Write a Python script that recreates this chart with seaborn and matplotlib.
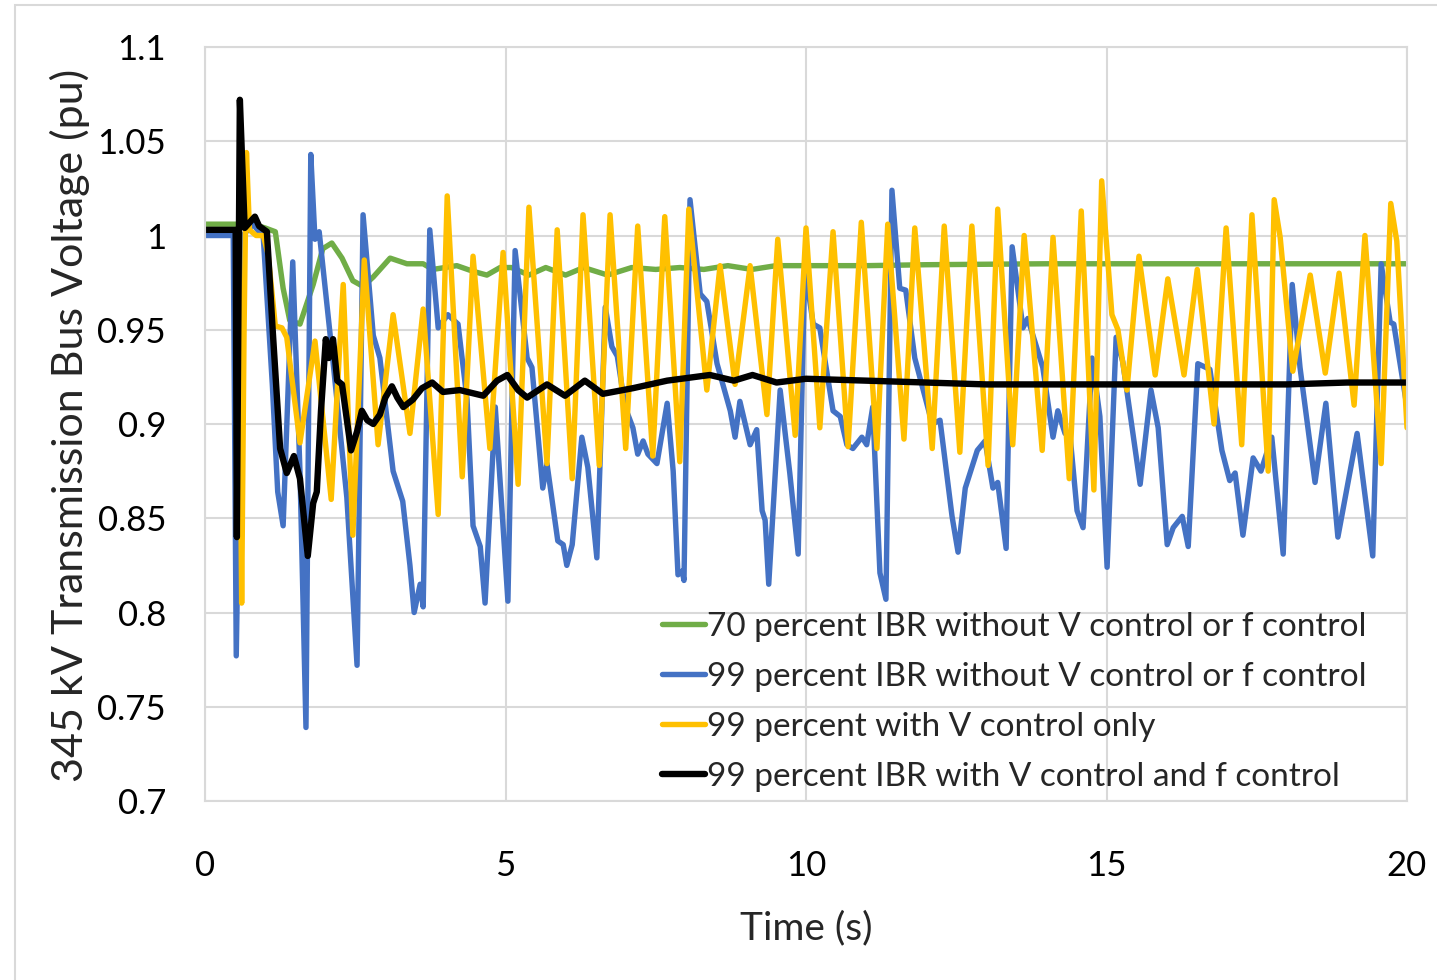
import matplotlib
matplotlib.use("Agg")
import matplotlib.pyplot as plt
import seaborn as sns
import pandas as pd
from matplotlib.patches import Rectangle

# ---------------- data ----------------
green_t = [0, 0.47, 0.80, 1.00, 1.17, 1.30, 1.41, 1.58, 1.80, 1.96, 2.11, 2.28, 2.46, 2.63, 2.80,
           3.08, 3.36, 3.63, 3.79, 4.19, 4.46, 4.69, 4.91, 5.10, 5.39, 5.67, 6.00, 6.30, 6.70,
           7.10, 7.50, 7.90, 8.30, 8.70, 9.10, 9.50, 10.0, 11.0, 12.0, 14.0, 16.0, 18.0, 20.0]
green_v = [1.006, 1.006, 1.006, 1.004, 1.002, 0.972, 0.955, 0.953, 0.974, 0.993, 0.996, 0.988, 0.976,
           0.973, 0.978, 0.988, 0.985, 0.985, 0.982, 0.984, 0.981, 0.979, 0.983, 0.983, 0.979, 0.983,
           0.979, 0.983, 0.979, 0.983, 0.982, 0.983, 0.982, 0.984, 0.982, 0.984, 0.984, 0.984, 0.9845,
           0.985, 0.985, 0.985, 0.985]

blue_t = [0, 0.47, 0.52, 0.63, 0.80, 0.97, 1.12, 1.21, 1.30, 1.46, 1.58, 1.68, 1.76, 1.83, 1.90,
          2.13, 2.36, 2.53, 2.63, 2.80, 2.91, 3.13, 3.29, 3.41, 3.48, 3.58, 3.63, 3.74, 3.88, 4.04,
          4.21, 4.36, 4.46, 4.58, 4.66, 4.83, 5.04, 5.16, 5.36, 5.44, 5.62, 5.69, 5.87, 5.96, 6.02,
          6.11, 6.27, 6.37, 6.52, 6.66, 6.77, 6.86, 6.99, 7.12, 7.20, 7.29, 7.37, 7.52, 7.69, 7.79,
          7.87, 7.94, 7.97, 8.07, 8.24, 8.35, 8.52, 8.74, 8.82, 8.90, 9.07, 9.18, 9.27, 9.32, 9.38,
          9.57, 9.73, 9.87, 9.98, 10.12, 10.23, 10.45, 10.57, 10.68, 10.78, 10.93, 11.01, 11.11,
          11.23, 11.33, 11.43, 11.56, 11.66, 11.81, 12.10, 12.23, 12.43, 12.53, 12.65, 12.85, 12.98,
          13.11, 13.19, 13.33, 13.43, 13.61, 13.69, 13.94, 14.11, 14.19, 14.31, 14.39, 14.51, 14.61,
          14.76, 14.89, 15.01, 15.16, 15.27, 15.56, 15.74, 15.86, 16.01, 16.11, 16.26, 16.36, 16.52,
          16.72, 16.92, 17.05, 17.14, 17.27, 17.44, 17.57, 17.75, 17.94, 18.09, 18.22, 18.47, 18.65,
          18.85, 19.17, 19.43, 19.57, 19.72, 19.78, 20.0]
blue_v = [1.0, 1.0, 0.777, 1.0, 1.006, 0.999, 0.921, 0.864, 0.846, 0.986, 0.875, 0.739, 1.043, 0.998,
          1.002, 0.933, 0.861, 0.772, 1.011, 0.947, 0.935, 0.875, 0.859, 0.825, 0.800, 0.815, 0.803,
          1.003, 0.951, 0.958, 0.953, 0.913, 0.846, 0.835, 0.805, 0.909, 0.806, 0.992, 0.935, 0.930,
          0.866, 0.879, 0.838, 0.836, 0.825, 0.836, 0.893, 0.877, 0.829, 0.962, 0.941, 0.936, 0.909,
          0.898, 0.884, 0.891, 0.884, 0.879, 0.911, 0.875, 0.820, 0.822, 0.817, 1.019, 0.969, 0.965,
          0.932, 0.907, 0.893, 0.912, 0.889, 0.897, 0.854, 0.849, 0.815, 0.918, 0.874, 0.831, 0.983,
          0.953, 0.951, 0.907, 0.904, 0.889, 0.887, 0.893, 0.889, 0.909, 0.821, 0.807, 1.024, 0.972,
          0.971, 0.935, 0.900, 0.902, 0.851, 0.832, 0.866, 0.886, 0.891, 0.866, 0.869, 0.834, 0.994,
          0.951, 0.956, 0.930, 0.893, 0.907, 0.895, 0.895, 0.854, 0.845, 0.935, 0.904, 0.824, 0.946,
          0.933, 0.868, 0.918, 0.898, 0.836, 0.845, 0.851, 0.835, 0.932, 0.929, 0.886, 0.870, 0.874,
          0.841, 0.882, 0.875, 0.893, 0.831, 0.974, 0.930, 0.869, 0.911, 0.840, 0.895, 0.830, 0.985,
          0.954, 0.953, 0.909]

yellow_t = [0, 0.50, 0.56, 0.61, 0.65, 0.69, 0.74, 0.85, 0.97, 1.05, 1.17, 1.28, 1.36, 1.58, 1.83,
            2.10, 2.30, 2.46, 2.65, 2.88, 3.13, 3.41, 3.63, 3.88, 4.03, 4.28, 4.46, 4.74, 4.96, 5.21,
            5.39, 5.69, 5.86, 6.11, 6.29, 6.56, 6.74, 7.00, 7.20, 7.45, 7.65, 7.90, 8.05, 8.35, 8.57,
            8.82, 9.07, 9.35, 9.53, 9.82, 10.00, 10.23, 10.45, 10.70, 10.92, 11.18, 11.36, 11.63,
            11.81, 12.10, 12.30, 12.56, 12.76, 13.03, 13.19, 13.44, 13.63, 13.93, 14.11, 14.38, 14.58,
            14.79, 14.92, 15.09, 15.19, 15.34, 15.54, 15.81, 16.02, 16.29, 16.51, 16.79, 16.99, 17.25,
            17.42, 17.69, 17.79, 17.89, 18.10, 18.39, 18.64, 18.87, 19.12, 19.30, 19.57, 19.73, 19.83,
            20.0]
yellow_v = [1.003, 1.003, 1.0, 0.805, 0.95, 1.044, 1.003, 1.0, 1.0, 0.99, 0.952, 0.951, 0.946, 0.890,
            0.944, 0.860, 0.974, 0.841, 0.987, 0.889, 0.958, 0.895, 0.961, 0.852, 1.021, 0.872, 0.989,
            0.887, 0.991, 0.868, 1.015, 0.879, 1.003, 0.871, 1.011, 0.878, 1.011, 0.887, 1.005, 0.883,
            1.010, 0.880, 1.014, 0.918, 0.984, 0.921, 0.984, 0.905, 0.998, 0.894, 1.004, 0.898, 1.002,
            0.888, 1.007, 0.887, 1.006, 0.892, 1.004, 0.887, 1.005, 0.885, 1.005, 0.878, 1.014, 0.889,
            1.000, 0.886, 0.999, 0.871, 1.013, 0.865, 1.029, 0.958, 0.950, 0.918, 0.989, 0.926, 0.977,
            0.926, 0.982, 0.900, 1.004, 0.889, 1.011, 0.875, 1.019, 0.999, 0.928, 0.979, 0.927, 0.980,
            0.910, 1.000, 0.879, 1.017, 0.997, 0.898]

black_t = [0, 0.51, 0.53, 0.58, 0.66, 0.83, 0.90, 1.03, 1.12, 1.25, 1.36, 1.48, 1.58, 1.71, 1.80,
           1.86, 1.93, 2.01, 2.06, 2.13, 2.20, 2.28, 2.43, 2.53, 2.61, 2.70, 2.80, 2.91, 3.00, 3.11,
           3.20, 3.30, 3.46, 3.61, 3.78, 3.96, 4.24, 4.63, 4.86, 5.03, 5.21, 5.36, 5.69, 5.99, 6.32,
           6.62, 7.12, 7.69, 8.40, 8.80, 9.11, 9.51, 10.0, 11.0, 12.0, 13.0, 14.0, 15.0, 16.0, 17.0,
           18.0, 19.0, 20.0]
black_v = [1.003, 1.003, 0.840, 1.072, 1.004, 1.010, 1.005, 1.002, 0.953, 0.887, 0.874, 0.883, 0.871,
           0.830, 0.858, 0.864, 0.907, 0.945, 0.935, 0.945, 0.923, 0.921, 0.886, 0.896, 0.907, 0.902,
           0.900, 0.905, 0.914, 0.920, 0.914, 0.909, 0.913, 0.919, 0.922, 0.917, 0.918, 0.915, 0.923,
           0.926, 0.918, 0.914, 0.921, 0.915, 0.923, 0.916, 0.919, 0.923, 0.926, 0.923, 0.926, 0.922,
           0.924, 0.923, 0.922, 0.921, 0.921, 0.921, 0.921, 0.921, 0.921, 0.922, 0.922]

labels = ["70 percent IBR without V control or f control",
          "99 percent IBR without V control or f control",
          "99 percent with V control only",
          "99 percent IBR with V control and f control"]
colors = ["#70AD47", "#4472C4", "#FFC000", "#000000"]
x_ticks = [0, 5, 10, 15, 20]
y_ticks = [0.7, 0.75, 0.8, 0.85, 0.9, 0.95, 1.0, 1.05, 1.1]
y_tick_labels = ["0.7", "0.75", "0.8", "0.85", "0.9", "0.95", "1", "1.05", "1.1"]

# ---------------- plot ----------------
sns.set_theme(style="white")
plt.rcParams["font.family"] = ["Lato", "DejaVu Sans"]

fig = plt.figure(figsize=(14.37, 9.8), dpi=100)
ax = fig.add_axes([205 / 1437, 1 - 801 / 980, 1202 / 1437, 754 / 980])

series = [(green_t, green_v), (blue_t, blue_v), (yellow_t, yellow_v), (black_t, black_v)]
widths = [3.9, 3.9, 3.9, 4.6]
for (t, v), lab, col in zip(series, labels, colors):
    df = pd.DataFrame({"t": t, "v": v})
    sns.lineplot(data=df, x="t", y="v", ax=ax, color=col, label=lab,
                 estimator=None, sort=False)
for line, lw in zip(ax.get_lines(), widths):
    line.set_linewidth(lw)
    line.set_solid_joinstyle("round")
    line.set_solid_capstyle("round")

ax.set_xlim(0, 20)
ax.set_ylim(0.7, 1.1)
ax.set_xticks(x_ticks)
ax.set_xticklabels([str(x) for x in x_ticks])
ax.set_yticks(y_ticks)
ax.set_yticklabels(y_tick_labels)
ax.grid(True, color="#D9D9D9", linewidth=1.5)
ax.set_axisbelow(True)
for s in ax.spines.values():
    s.set_color("#D9D9D9")
    s.set_linewidth(1.5)
ax.tick_params(axis="both", length=0, labelsize=25, colors="black")
ax.tick_params(axis="x", pad=35)
ax.tick_params(axis="y", pad=28)

ax.set_xlabel("Time (s)", fontsize=28)
ax.set_ylabel("345 kV Transmission Bus Voltage (pu)", fontsize=31)
ax.xaxis.set_label_coords((806 - 205) / 1202, (801 - 928) / 754)
ax.xaxis.label.set_va("center")
ax.yaxis.set_label_coords((70 - 205) / 1202, (801 - 425) / 754)
ax.yaxis.label.set_va("center")

leg = ax.legend(loc="lower left", bbox_to_anchor=((662 - 205) / 1202, 0.012), frameon=False,
                fontsize=24, handlelength=1.3, handletextpad=0.05, labelspacing=0.6,
                borderpad=0, borderaxespad=0)
for line, lw in zip(leg.get_lines(), widths):
    line.set_linewidth(lw)

fig.patches.append(Rectangle((15 / 1437, -0.05), 1.1, 1.05 - 5 / 980,
                             transform=fig.transFigure, fill=False,
                             edgecolor="#D9D9D9", linewidth=1.5))

fig.savefig("out.png", dpi=100)
